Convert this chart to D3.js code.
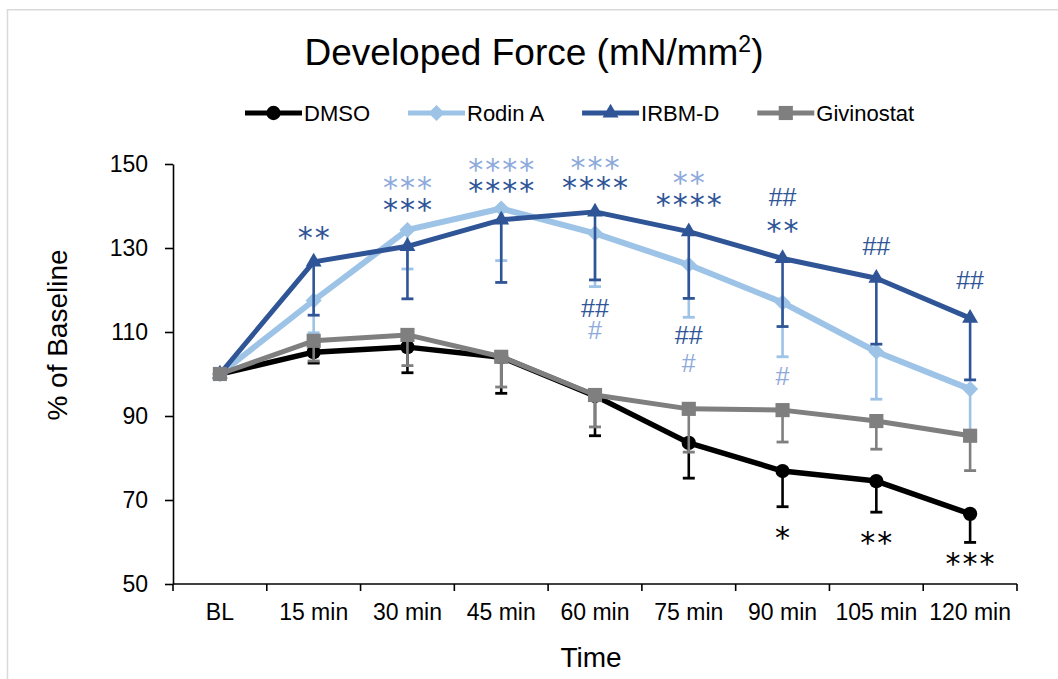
<!DOCTYPE html>
<html>
<head>
<meta charset="utf-8">
<script src="https://cdn.jsdelivr.net/npm/d3@7"></script>
<style>
  body { margin: 0; background: #fff; }
  svg { display: block; }
  text { font-family: "Liberation Sans", Arial, sans-serif; }
</style>
</head>
<body>
<div id="chart"></div>
<script>
// time points on the x axis
var categories = ["BL", "15 min", "30 min", "45 min", "60 min", "75 min", "90 min", "105 min", "120 min"];

// % of baseline, with the lower error bar length
var dmso       = [100, 105.2, 106.4, 104.0, 94.8, 83.6, 76.9, 74.5, 66.7];
var dmsoErr    = [0, 2.6, 6.1, 8.6, 9.5, 8.4, 8.5, 7.4, 6.8];
var rodin      = [100, 117.5, 134.3, 139.4, 133.5, 126.0, 117.0, 105.3, 96.4];
var rodinErr   = [0, 7.7, 9.3, 12.4, 12.7, 12.5, 12.9, 11.3, 11.4];
var irbm       = [100, 126.7, 130.4, 136.7, 138.6, 133.9, 127.5, 122.8, 113.3];
var irbmErr    = [0, 12.7, 12.5, 14.9, 16.2, 15.9, 16.2, 15.7, 14.7];
var givino     = [100, 107.9, 109.3, 104.1, 95.0, 91.7, 91.4, 88.8, 85.3];
var givinoErr  = [0, 4.8, 7.3, 7.2, 7.6, 10.3, 7.6, 6.7, 8.3];

var seriesNames = ["DMSO", "Rodin A", "IRBM-D", "Givinostat"];
var yTicks = [50, 70, 90, 110, 130, 150];

// significance marks: time point, text, which series colour, level on the value axis
var markCats   = ["15 min", "30 min", "30 min", "45 min", "45 min", "60 min", "60 min", "60 min", "60 min",
                  "75 min", "75 min", "75 min", "75 min", "90 min", "90 min", "90 min", "105 min", "120 min",
                  "90 min", "105 min", "120 min"];
var markTexts  = ["**", "***", "***", "****", "****", "***", "****", "##", "#",
                  "**", "****", "##", "#", "##", "**", "#", "##", "##",
                  "*", "**", "***"];
var markSeries = ["IRBM-D", "Rodin A", "IRBM-D", "Rodin A", "IRBM-D", "Rodin A", "IRBM-D", "IRBM-D", "Rodin A",
                  "Rodin A", "IRBM-D", "IRBM-D", "Rodin A", "IRBM-D", "IRBM-D", "Rodin A", "IRBM-D", "IRBM-D",
                  "DMSO", "DMSO", "DMSO"];
var markLevel  = [133.9, 145.7, 140.5, 150.0, 145.0, 150.5, 145.8, 115.7, 110.5,
                  146.9, 141.7, 109.3, 102.6, 142.2, 135.5, 99.5, 130.5, 122.4,
                  62.4, 61.2, 56.2];

var colors = {"DMSO": "#000000", "Rodin A": "#9dc3e6", "IRBM-D": "#2f5597", "Givinostat": "#7f7f7f"};
var markColors = {"DMSO": "#000000", "Rodin A": "#8eaadb", "IRBM-D": "#2f5597"};

var width = 1058, height = 679;
var margin = {top: 164, right: 41, bottom: 95, left: 173};

var svg = d3.select("#chart").append("svg")
    .attr("width", width)
    .attr("height", height);

// light frame, only top and left edges show
svg.append("rect")
    .attr("x", 7.5).attr("y", 9.75)
    .attr("width", 1200).attr("height", 900)
    .attr("fill", "none")
    .attr("stroke", "#d9d9d9")
    .attr("stroke-width", 1.5);

var x = d3.scaleBand()
    .domain(categories)
    .range([margin.left, width - margin.right])
    .padding(0);
var y = d3.scaleLinear()
    .domain([50, 150])
    .range([height - margin.bottom, margin.top]);

function cx(c) { return x(c) + x.bandwidth() / 2; }

// title
var title = svg.append("text")
    .attr("x", 534)
    .attr("y", 65)
    .attr("text-anchor", "middle")
    .attr("fill", "#000")
    .style("font-size", "37px");
title.append("tspan").text("Developed Force (mN/mm");
title.append("tspan").attr("dy", -13).style("font-size", "23px").text("2");
title.append("tspan").attr("dy", 13).text(")");

// y axis
var yAxis = svg.append("g")
    .attr("transform", "translate(" + margin.left + ",0)")
    .call(d3.axisLeft(y).tickValues(yTicks).tickSize(8).tickSizeOuter(0).tickPadding(17));
yAxis.select(".domain").attr("stroke", "#000").attr("stroke-width", 1.6);
yAxis.selectAll(".tick line").attr("stroke", "#000").attr("stroke-width", 1.6);
yAxis.selectAll(".tick text")
    .style("font-family", "'Liberation Sans', Arial, sans-serif")
    .style("font-size", "23px")
    .attr("fill", "#000");

// x axis: line, boundary ticks, centred labels
var x0 = y(50);
var xAxis = svg.append("g");
xAxis.append("line")
    .attr("x1", x.range()[0]).attr("x2", x.range()[1])
    .attr("y1", x0).attr("y2", x0)
    .attr("stroke", "#000").attr("stroke-width", 1.6);
xAxis.selectAll(".xt")
    .data(categories.concat(["end"]))
    .enter().append("line")
    .attr("x1", function (d) { return d === "end" ? x.range()[1] : x(d); })
    .attr("x2", function (d) { return d === "end" ? x.range()[1] : x(d); })
    .attr("y1", x0).attr("y2", x0 + 7)
    .attr("stroke", "#000").attr("stroke-width", 1.6);
xAxis.selectAll(".xl")
    .data(categories)
    .enter().append("text")
    .attr("x", function (d) { return cx(d); })
    .attr("y", x0 + 36)
    .attr("text-anchor", "middle")
    .attr("fill", "#000")
    .style("font-size", "23px")
    .text(function (d) { return d; });

// axis titles
svg.append("text")
    .attr("x", 591).attr("y", 667)
    .attr("text-anchor", "middle")
    .attr("fill", "#000")
    .style("font-size", "28px")
    .text("Time");
svg.append("text")
    .attr("transform", "translate(67," + 335 + ") rotate(-90)")
    .attr("text-anchor", "middle")
    .attr("fill", "#000")
    .style("font-size", "28px")
    .text("% of Baseline");

// series
var seriesData = [
    {name: "DMSO", values: dmso, err: dmsoErr, symbol: "circle", lw: 5.5},
    {name: "Rodin A", values: rodin, err: rodinErr, symbol: "diamond", lw: 6},
    {name: "IRBM-D", values: irbm, err: irbmErr, symbol: "triangle", lw: 5},
    {name: "Givinostat", values: givino, err: givinoErr, symbol: "square", lw: 5}
];

function symbolPath(kind) {
    if (kind === "circle") return d3.symbol().type(d3.symbolCircle).size(160)();
    if (kind === "diamond") return d3.symbol().type(d3.symbolSquare).size(130)();
    if (kind === "triangle") return d3.symbol().type(d3.symbolTriangle).size(110)();
    return d3.symbol().type(d3.symbolSquare).size(200)();
}
function symbolRotate(kind) { return kind === "diamond" ? " rotate(45)" : ""; }

var line = d3.line()
    .x(function (d, i) { return cx(categories[i]); })
    .y(function (d) { return y(d); });

seriesData.forEach(function (s) {
    var g = svg.append("g").attr("class", "series");
    var col = colors[s.name];
    // lower error bars
    var eb = g.selectAll(".err")
        .data(s.values.map(function (v, i) { return {c: categories[i], v: v, e: s.err[i]}; })
            .filter(function (d) { return d.e > 0; }))
        .enter().append("g");
    eb.append("line")
        .attr("x1", function (d) { return cx(d.c); })
        .attr("x2", function (d) { return cx(d.c); })
        .attr("y1", function (d) { return y(d.v); })
        .attr("y2", function (d) { return y(d.v - d.e); })
        .attr("stroke", col).attr("stroke-width", 2.6);
    eb.append("line")
        .attr("x1", function (d) { return cx(d.c) - 6; })
        .attr("x2", function (d) { return cx(d.c) + 6; })
        .attr("y1", function (d) { return y(d.v - d.e); })
        .attr("y2", function (d) { return y(d.v - d.e); })
        .attr("stroke", col).attr("stroke-width", 2.8);
    g.append("path")
        .datum(s.values)
        .attr("d", line)
        .attr("fill", "none")
        .attr("stroke", col)
        .attr("stroke-width", s.lw)
        .attr("stroke-linejoin", "round");
    g.selectAll(".mk")
        .data(s.values)
        .enter().append("path")
        .attr("transform", function (d, i) {
            return "translate(" + cx(categories[i]) + "," + y(d) + ")" + symbolRotate(s.symbol);
        })
        .attr("d", symbolPath(s.symbol))
        .attr("fill", col);
});

// significance marks
var marks = markTexts.map(function (t, i) {
    return {c: markCats[i], t: t, s: markSeries[i], v: markLevel[i]};
});
function isStar(d) { return d.t.charAt(0) === "*"; }
svg.selectAll(".sig")
    .data(marks)
    .enter().append("text")
    .attr("x", function (d) { return cx(d.c); })
    .attr("y", function (d) { return y(d.v) + (isStar(d) ? 16 : 9); })
    .attr("text-anchor", "middle")
    .attr("dx", function (d) { return isStar(d) ? 1 : 0; })
    .attr("fill", function (d) { return markColors[d.s]; })
    .style("font-family", function (d) {
        return isStar(d) ? "'DejaVu Sans', sans-serif" : "'Liberation Sans', Arial, sans-serif";
    })
    .style("font-size", function (d) { return isStar(d) ? "30px" : "25px"; })
    .style("letter-spacing", function (d) { return isStar(d) ? "2px" : "0px"; })
    .text(function (d) { return d.t; });

// legend
var legend = svg.append("g");
var lx = 245, ly = 113;
seriesData.forEach(function (s) {
    var col = colors[s.name];
    legend.append("line")
        .attr("x1", lx).attr("x2", lx + 57)
        .attr("y1", ly).attr("y2", ly)
        .attr("stroke", col).attr("stroke-width", 5);
    legend.append("path")
        .attr("transform", "translate(" + (lx + 28.5) + "," + ly + ")" + symbolRotate(s.symbol))
        .attr("d", symbolPath(s.symbol))
        .attr("fill", col);
    var t = legend.append("text")
        .attr("x", lx + 59)
        .attr("y", ly + 8)
        .attr("fill", "#000")
        .style("font-size", "22px")
        .text(s.name);
    lx += 59 + t.node().getComputedTextLength() + 38;
});
</script>
</body>
</html>
